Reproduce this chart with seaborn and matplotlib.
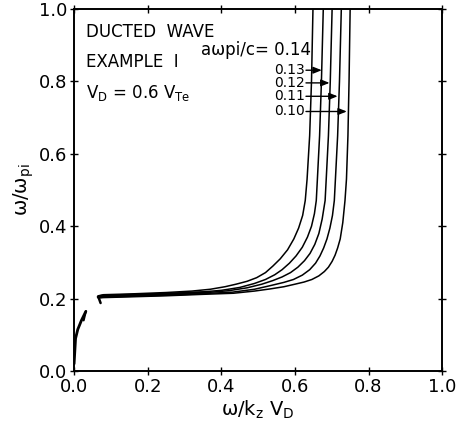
import matplotlib
matplotlib.use("Agg")
import matplotlib.pyplot as plt
import seaborn as sns
import pandas as pd

# ---- data ----
a_values = ["0.14", "0.13", "0.12", "0.11", "0.10"]

x_014 = [0.066, 0.08, 0.15, 0.25, 0.32, 0.37, 0.41, 0.44, 0.47, 0.496, 0.52, 0.54, 0.56, 0.58, 0.597, 0.610, 0.621, 0.628, 0.633, 0.640, 0.645, 0.649]
y_014 = [0.208, 0.211, 0.213, 0.217, 0.221, 0.226, 0.233, 0.240, 0.248, 0.258, 0.272, 0.290, 0.310, 0.335, 0.365, 0.395, 0.430, 0.471, 0.530, 0.650, 0.800, 1.000]

x_013 = [0.066, 0.08, 0.15, 0.25, 0.34, 0.40, 0.45, 0.49, 0.52, 0.545, 0.565, 0.585, 0.603, 0.620, 0.634, 0.645, 0.653, 0.658, 0.661, 0.667, 0.672, 0.677]
y_013 = [0.207, 0.209, 0.211, 0.214, 0.218, 0.223, 0.231, 0.242, 0.253, 0.266, 0.280, 0.298, 0.318, 0.342, 0.370, 0.400, 0.435, 0.471, 0.530, 0.650, 0.800, 1.000]

x_012 = [0.066, 0.08, 0.15, 0.25, 0.35, 0.42, 0.47, 0.51, 0.54, 0.565, 0.588, 0.608, 0.626, 0.641, 0.654, 0.665, 0.674, 0.682, 0.685, 0.691, 0.696, 0.701]
y_012 = [0.205, 0.207, 0.209, 0.212, 0.216, 0.222, 0.230, 0.240, 0.250, 0.260, 0.272, 0.287, 0.305, 0.325, 0.350, 0.380, 0.420, 0.471, 0.530, 0.650, 0.800, 1.000]

x_011 = [0.066, 0.08, 0.15, 0.25, 0.35, 0.43, 0.49, 0.533, 0.57, 0.596, 0.62, 0.640, 0.656, 0.668, 0.678, 0.687, 0.695, 0.702, 0.707, 0.710, 0.716, 0.721, 0.726]
y_011 = [0.204, 0.206, 0.208, 0.211, 0.214, 0.218, 0.226, 0.236, 0.245, 0.253, 0.265, 0.280, 0.298, 0.318, 0.340, 0.365, 0.395, 0.430, 0.471, 0.530, 0.650, 0.800, 1.000]

x_010 = [0.066, 0.08, 0.15, 0.25, 0.35, 0.433, 0.49, 0.533, 0.57, 0.60, 0.625, 0.646, 0.665, 0.680, 0.691, 0.701, 0.709, 0.716, 0.723, 0.730, 0.736, 0.740, 0.744, 0.747, 0.750]
y_010 = [0.202, 0.203, 0.205, 0.208, 0.212, 0.215, 0.221, 0.227, 0.233, 0.240, 0.246, 0.253, 0.263, 0.275, 0.287, 0.303, 0.320, 0.340, 0.365, 0.410, 0.471, 0.530, 0.650, 0.800, 1.000]

# short branch near the origin and the hook at the start of the band
x_branch = [0.0, 0.004, 0.010, 0.020, 0.032]
y_branch = [0.02, 0.09, 0.115, 0.140, 0.165]
x_barb = [0.032, 0.026]
y_barb = [0.165, 0.140]
x_hook = [0.066, 0.072]
y_hook = [0.205, 0.188]

xticks = [0.0, 0.2, 0.4, 0.6, 0.8, 1.0]
yticks = [0.0, 0.2, 0.4, 0.6, 0.8, 1.0]
tick_labels = ["0.0", "0.2", "0.4", "0.6", "0.8", "1.0"]

# ---- figure ----
sns.set_style("ticks")
plt.rcParams["font.family"] = ["DejaVu Sans"]
plt.rcParams["mathtext.fontset"] = "dejavusans"
plt.rcParams["text.color"] = "black"
plt.rcParams["axes.labelcolor"] = "black"
plt.rcParams["xtick.color"] = "black"
plt.rcParams["ytick.color"] = "black"

fig = plt.figure(figsize=(4.63, 4.30), dpi=100)
ax = fig.add_axes([0.160, 0.137, 0.795, 0.842])

curves = [(x_014, y_014), (x_013, y_013), (x_012, y_012), (x_011, y_011), (x_010, y_010)]
frames = []
for lab, (xs, ys) in zip(a_values, curves):
    frames.append(pd.DataFrame({"x": xs, "y": ys, "a": lab}))
df = pd.concat(frames, ignore_index=True)

sns.lineplot(data=df, x="x", y="y", units="a", estimator=None, sort=False,
             color="black", linewidth=1.1, ax=ax, legend=False)

sns.lineplot(x=x_branch, y=y_branch, sort=False, color="black", linewidth=2.0, ax=ax, legend=False)
sns.lineplot(x=x_barb, y=y_barb, sort=False, color="black", linewidth=1.5, ax=ax, legend=False)
sns.lineplot(x=x_hook, y=y_hook, sort=False, color="black", linewidth=1.8, ax=ax, legend=False)
sns.lineplot(x=x_012[:5], y=y_012[:5], sort=False, color="black", linewidth=2.4, ax=ax, legend=False)

ax.set_xlim(0, 1)
ax.set_ylim(0, 1)
ax.set_xticks(xticks)
ax.set_yticks(yticks)
ax.set_xticklabels(tick_labels, fontsize=13)
ax.set_yticklabels(tick_labels, fontsize=13)
ax.tick_params(direction="inout", length=6, width=1.0, top=True, right=True,
               labeltop=False, labelright=False, pad=2)
for sp in ax.spines.values():
    sp.set_linewidth(1.4)
    sp.set_color("black")

ax.set_xlabel(r"ω/k$_\mathrm{z}$ V$_\mathrm{D}$", fontsize=14, labelpad=2)
ax.set_ylabel(r"ω/ω$_\mathrm{pi}$", fontsize=14, labelpad=2)

ax.text(0.033, 0.936, "DUCTED  WAVE", fontsize=12, va="center", ha="left")
ax.text(0.033, 0.853, "EXAMPLE  I", fontsize=12, va="center", ha="left")
ax.text(0.033, 0.767, r"V$_\mathrm{D}$ = 0.6 V$_\mathrm{Te}$", fontsize=12, va="center", ha="left")

ax.text(0.644, 0.886, "aωpi/c= 0.14", fontsize=12, va="center", ha="right")

label_y = [0.831, 0.796, 0.759, 0.717]
arrow_tip = [0.673, 0.694, 0.716, 0.741]
for lab, yy, tip in zip(a_values[1:], label_y, arrow_tip):
    ax.text(0.627, yy, lab, fontsize=10, va="center", ha="right")
    ax.annotate("", xy=(tip, yy), xytext=(0.630, yy),
                arrowprops=dict(arrowstyle="-|>,head_length=0.5,head_width=0.2",
                                color="black", lw=1.0, shrinkA=0, shrinkB=0))

fig.savefig("out.png", dpi=100)
